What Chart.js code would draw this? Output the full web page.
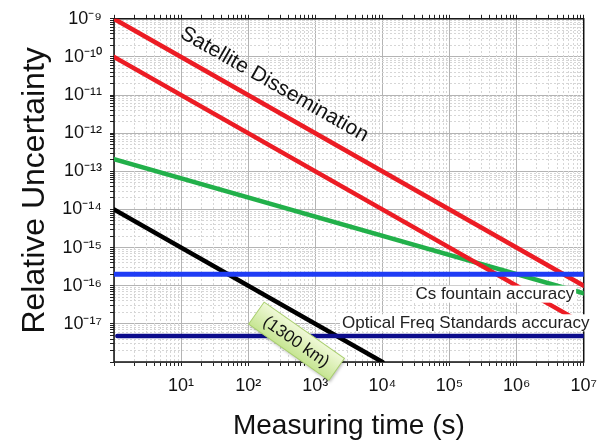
<!DOCTYPE html>
<html>
<head>
<meta charset="utf-8">
<script src="https://cdn.jsdelivr.net/npm/chart.js@4"></script>
<style>
html,body{margin:0;padding:0;background:#fff;}
#wrap{width:606px;height:443px;position:relative;}
</style>
</head>
<body>
<div id="wrap"><canvas id="c" width="606" height="443"></canvas></div>
<script>
// ---- data ----
const xFull = [1, 1e7];
const satUpper = [1e-9, 1e-16];
const satLower = [1e-10, 1e-17];
const greenVals = [2.1e-13, 6.3e-17];
const blackX = [1, 1e4];
const blackVals = [1e-14, 1e-18];
const csVals = [2e-16, 2e-16];
const opticalX = [1.12, 1e7];
const opticalVals = [4.8e-18, 4.8e-18];
const xDecades = [0,1,2,3,4,5,6,7];
const yDecades = [-18,-17,-16,-15,-14,-13,-12,-11,-10,-9];

const SUP = {'0':'⁰','1':'¹','2':'²','3':'³','4':'⁴','5':'⁵','6':'⁶','7':'⁷','8':'⁸','9':'⁹','-':'⁻'};
const sup = s => String(s).split('').map(ch => SUP[ch] || ch).join('');
const FONT = '"Liberation Sans", Arial, sans-serif';

function pts(xs, ys){ return xs.map((x,i)=>({x:x, y:ys[i]})); }
function buildLogTicks(decs){
  const t = [];
  for (let i=0;i<decs.length;i++){
    const e = decs[i];
    if (i === decs.length-1){ t.push({value: Math.pow(10,e)}); break; }
    for (let m=1;m<=9;m++) t.push({value: m*Math.pow(10,e)});
  }
  return t;
}
function isMajor(v){ const l=Math.log10(v); return Math.abs(l-Math.round(l))<1e-6; }

const ds = (label, data, color, width) => ({label, data, borderColor: color, backgroundColor: color,
  borderWidth: width, pointRadius: 0, fill: false, tension: 0, borderCapStyle: 'round', xAxisID:'x', yAxisID:'y'});

const framePlugin = {
  id: 'frame',
  beforeDatasetsDraw(chart){
    const {ctx, chartArea:a} = chart;
    ctx.save();
    ctx.strokeStyle = '#111'; ctx.lineWidth = 1.5;
    ctx.strokeRect(a.left, a.top, a.right - a.left, a.bottom - a.top);
    ctx.restore();
  }
};

const annotPlugin = {
  id: 'annot',
  afterDatasetsDraw(chart){
    const {ctx, scales:{x, y}} = chart;
    const ang = Math.atan2(y.getPixelForValue(1e-10) - y.getPixelForValue(1e-9),
                           x.getPixelForValue(10) - x.getPixelForValue(1));
    ctx.save();
    ctx.translate(x.getPixelForValue(245), y.getPixelForValue(1.9e-11));
    ctx.rotate(ang);
    ctx.font = '21px ' + FONT;
    ctx.fillStyle = '#111';
    ctx.textAlign = 'center'; ctx.textBaseline = 'middle';
    ctx.fillText('Satellite Dissemination', 0, 0);
    ctx.restore();

    function boxLabel(txt, xv, yv){
      ctx.save();
      ctx.font = '17px ' + FONT;
      const w = ctx.measureText(txt).width;
      const px = x.getPixelForValue(xv), py = y.getPixelForValue(yv);
      ctx.fillStyle = '#fff';
      ctx.fillRect(px-2, py-8, w+4, 17);
      ctx.fillStyle = '#222';
      ctx.textAlign = 'left'; ctx.textBaseline = 'middle';
      ctx.fillText(txt, px, py+1);
      ctx.restore();
    }
    boxLabel('Cs fountain accuracy', 31000, 6.2e-17);
    boxLabel('Optical Freq Standards accuracy', 2500, 1.1e-17);

    ctx.save();
    ctx.translate(x.getPixelForValue(525), y.getPixelForValue(3.5e-18));
    ctx.rotate(35*Math.PI/180);
    const bw = 98, bh = 27;
    const g = ctx.createLinearGradient(0, -bh/2, 0, bh/2);
    g.addColorStop(0, '#f0f9d8'); g.addColorStop(1, '#c6e592');
    ctx.shadowColor = 'rgba(0,0,0,0.25)'; ctx.shadowBlur = 3; ctx.shadowOffsetX = 1; ctx.shadowOffsetY = 2;
    ctx.fillStyle = g;
    ctx.fillRect(-bw/2, -bh/2, bw, bh);
    ctx.shadowColor = 'transparent';
    ctx.strokeStyle = '#a9cf6e'; ctx.lineWidth = 1;
    ctx.strokeRect(-bw/2, -bh/2, bw, bh);
    ctx.fillStyle = '#111';
    ctx.font = '17px ' + FONT;
    ctx.textAlign = 'center'; ctx.textBaseline = 'middle';
    ctx.fillText('(1300 km)', 0, 1);
    ctx.restore();
  }
};

const xTicks = () => buildLogTicks(xDecades);
const yTicks = () => buildLogTicks(yDecades);
const xMin = Math.pow(10, xDecades[0]), xMax = Math.pow(10, xDecades[xDecades.length-1]);
const yMin = Math.pow(10, yDecades[0]), yMax = Math.pow(10, yDecades[yDecades.length-1]);

new Chart(document.getElementById('c'), {
  type: 'line',
  data: {
    datasets: [
      ds('Cs fountain', pts(xFull, csVals), '#1f3cf5', 5),
      ds('Optical', pts(opticalX, opticalVals), '#0c0c8c', 4.5),
      ds('Satellite upper', pts(xFull, satUpper), '#ec1c24', 4.5),
      ds('Satellite lower', pts(xFull, satLower), '#ec1c24', 4.5),
      ds('Green', pts(xFull, greenVals), '#22b04a', 4.5),
      ds('Fiber', pts(blackX, blackVals), '#000000', 4.5)
    ]
  },
  options: {
    responsive: false,
    animation: false,
    layout: { padding: { top: 15, right: 21, left: 0, bottom: 0 } },
    plugins: { legend: { display: false }, tooltip: { enabled: false } },
    scales: {
      x: {
        type: 'logarithmic', position: 'bottom', min: xMin, max: xMax,
        afterBuildTicks: s => { s.ticks = xTicks(); },
        afterFit: s => { s.height = 81; },
        grid: { color: c => isMajor(c.tick.value) ? '#b4b4b4' : 'rgba(0,0,0,0)', lineWidth: 1,
                drawTicks: true, tickLength: 4, tickColor: '#222', tickWidth: 1 },
        border: { display: false },
        ticks: { autoSkip: false, maxRotation: 0, padding: 9, color: '#111',
                 font: { family: FONT, size: 18 },
                 callback: v => { if (!isMajor(v)) return ''; const e = Math.round(Math.log10(v)); return e === 0 ? '' : '10' + sup(e); } },
        title: { display: true, text: 'Measuring time (s)', color: '#111', font: { family: FONT, size: 28 }, padding: { top: 4, bottom: 0 } }
      },
      y: {
        type: 'logarithmic', position: 'left', min: yMin, max: yMax,
        afterBuildTicks: s => { s.ticks = yTicks(); },
        afterFit: s => { s.width = 114; },
        grid: { color: c => isMajor(c.tick.value) ? '#b4b4b4' : 'rgba(0,0,0,0)', lineWidth: 1,
                drawTicks: true, tickLength: 4, tickColor: '#222', tickWidth: 1 },
        border: { display: false },
        ticks: { autoSkip: false, padding: 8, color: '#111',
                 font: { family: FONT, size: 18 },
                 callback: v => { if (!isMajor(v)) return ''; const e = Math.round(Math.log10(v)); return e === -18 ? '' : '10' + sup(e); } },
        title: { display: true, text: 'Relative Uncertainty', color: '#111', font: { family: FONT, size: 32 }, padding: { top: 16, bottom: 0 } }
      },
      xm: {
        type: 'logarithmic', position: 'top', min: xMin, max: xMax,
        afterBuildTicks: s => { s.ticks = xTicks(); },
        afterFit: s => { s.height = 0; },
        grid: { color: c => isMajor(c.tick.value) ? 'rgba(0,0,0,0)' : '#d6d6d6', lineWidth: 1,
                drawTicks: true, tickLength: 4, tickColor: '#222' },
        border: { display: false, dash: [2, 2] },
        ticks: { display: false }
      },
      ym: {
        type: 'logarithmic', position: 'right', min: yMin, max: yMax,
        afterBuildTicks: s => { s.ticks = yTicks(); },
        afterFit: s => { s.width = 0; },
        grid: { color: c => isMajor(c.tick.value) ? 'rgba(0,0,0,0)' : '#d6d6d6', lineWidth: 1,
                drawTicks: false },
        border: { display: false, dash: [2, 2] },
        ticks: { display: false }
      }
    }
  },
  plugins: [framePlugin, annotPlugin]
});
</script>
</body>
</html>
